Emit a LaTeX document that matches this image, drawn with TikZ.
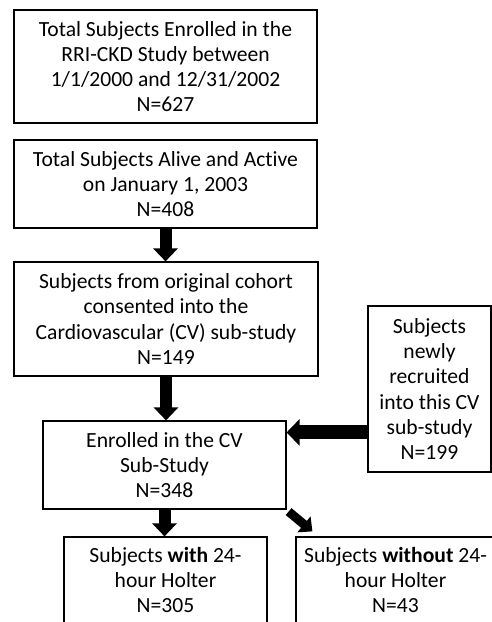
\documentclass[tikz,border=0pt]{standalone}
\usepackage{fontspec}
\setmainfont{Carlito}[Ligatures={NoCommon}]
\usetikzlibrary{arrows.meta}

\tikzset{
  box/.style={draw, line width=1.2pt, align=center, inner sep=0pt,
    font=\fontsize{21.6}{25.2}\selectfont},
  fat/.style={line width=12pt, -{Triangle[width=24pt,length=13pt]}},
}

\begin{document}
\begin{tikzpicture}[x=1pt,y=1pt]
\clip (0,0) rectangle (492,-622);
\node[box, minimum width=303pt, minimum height=113pt] (A) at (165.5,-66.5) {Total Subjects Enrolled in the\\RRI-CKD Study between\\1/1/2000 and 12/31/2002\\N=627};
\node[box, minimum width=303pt, minimum height=88pt] (B) at (165.5,-184) {Total Subjects Alive and Active\\on January 1, 2003\\N=408};
\node[box, minimum width=304pt, minimum height=114pt] (C) at (166,-319) {Subjects from original cohort\\consented into the\\Cardiovascular (CV) sub-study\\N=149};
\node[box, minimum width=123pt, minimum height=166pt] (N) at (429.5,-389) {Subjects\\newly\\recruited\\into this CV\\sub-study\\N=199};
\node[box, minimum width=243pt, minimum height=88pt] (D) at (164.5,-465) {Enrolled in the CV\\Sub-Study\\N=348};
\node[box, minimum width=203pt, minimum height=86pt] (E) at (165.5,-580) {Subjects \textbf{with} 24-\\hour Holter\\N=305};
\node[box, minimum width=199pt, minimum height=86pt] (F) at (395.5,-580) {Subjects \textbf{without} 24-\\hour Holter\\N=43};

\draw[fat] (B.south) -- (B.south |- C.north);
\draw[fat] (C.south) -- (C.south |- D.north);
\path (D.north east) ++(0,-12pt) coordinate (d1);
\draw[fat, line width=14pt, -{Triangle[width=26pt,length=13pt]}] (N.west |- d1) -- (d1);
\draw[fat] (D.south) -- (D.south |- E.north);
\draw[fat, line width=9pt, -{Triangle[width=20pt,length=11pt]}] ([shift={(2pt,-2pt)}]D.south east) -- ([shift={(17pt,5pt)}]F.north west);
\end{tikzpicture}
\end{document}
